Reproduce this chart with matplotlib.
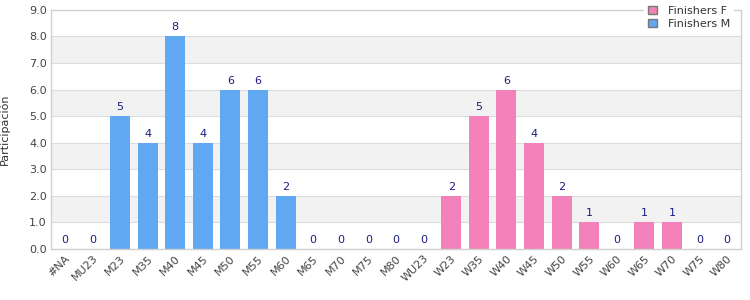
import numpy as np
import matplotlib
matplotlib.use("Agg")
import matplotlib.pyplot as plt
from matplotlib.patches import Patch

categories = ["#NA", "MU23", "M23", "M35", "M40", "M45", "M50", "M55", "M60", "M65",
              "M70", "M75", "M80", "WU23", "W23", "W35", "W40", "W45", "W50", "W55",
              "W60", "W65", "W70", "W75", "W80"]
values = [0, 0, 5, 4, 8, 4, 6, 6, 2, 0, 0, 0, 0, 0, 2, 5, 6, 4, 2, 1, 0, 1, 1, 0, 0]
series = ["M"] * 13 + ["F"] * 12

colors = {"M": "#60a8f2", "F": "#f282b9"}
label_color = "#1c1c80"

fig = plt.figure(figsize=(7.5, 3), dpi=100)
ax = fig.add_axes([0.068, 0.17, 0.92, 0.797])

x = np.arange(len(categories))
ax.set_xlim(-0.5, len(categories) - 0.5)
ax.set_ylim(0, 9)

# alternating bands
for lo in range(1, 9, 2):
    ax.axhspan(lo, lo + 1, color="#f2f2f2", zorder=0, lw=0)
for y in range(1, 9):
    ax.axhline(y, color="#dcdcdc", lw=0.8, zorder=1)

ax.bar(x, values, width=0.73, color=[colors[s] for s in series], zorder=2)
for xi, v in zip(x, values):
    ax.text(xi, v + 0.15, str(v), ha="center", va="bottom", fontsize=8,
            color=label_color, zorder=3)

ax.set_xticks(x)
ax.set_xticklabels(categories, rotation=45, ha="right", rotation_mode="anchor",
                   fontsize=8, color="#444444")
ax.set_yticks(range(10))
ax.set_yticklabels([f"{v:.1f}" for v in range(10)], fontsize=8, color="#444444")
ax.tick_params(length=0, pad=3)
ax.set_ylabel("Participación", fontsize=8, color="#333333", labelpad=14)

for s in ax.spines.values():
    s.set_color("#d0d0d0")
    s.set_linewidth(1)

handles = [Patch(facecolor=colors["F"], edgecolor="#777777", label="Finishers F"),
           Patch(facecolor=colors["M"], edgecolor="#777777", label="Finishers M")]
leg = ax.legend(handles=handles, loc="upper right", bbox_to_anchor=(0.997, 1.055),
                frameon=True, fontsize=8, handlelength=0.8, handleheight=0.8,
                borderpad=0.3, labelspacing=0.25, handletextpad=1.0, fancybox=False,
                framealpha=1)
leg.get_frame().set_edgecolor("white")
leg.set_zorder(5)
for t in leg.get_texts():
    t.set_color("#333333")

fig.savefig("out.png", dpi=100)
